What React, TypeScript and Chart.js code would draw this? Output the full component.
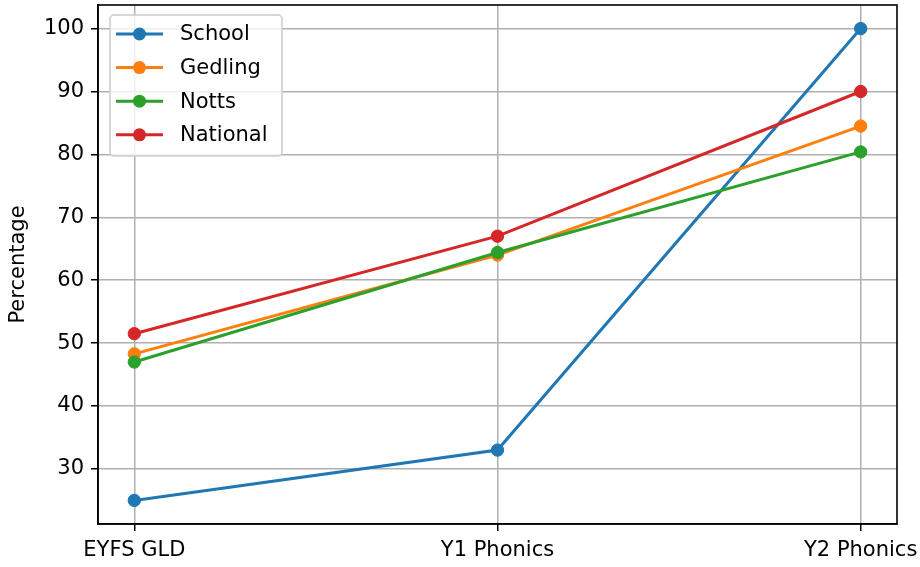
import React, { useEffect, useRef } from "react";
import { Chart, registerables } from "chart.js";

Chart.register(...registerables);

const categories = ["EYFS GLD", "Y1 Phonics", "Y2 Phonics"];
const schoolValues = [25, 33, 100];
const gedlingValues = [48.3, 64.0, 84.5];
const nottsValues = [47.0, 64.4, 80.4];
const nationalValues = [51.5, 67.0, 90.0];
const yTickValues = [30, 40, 50, 60, 70, 80, 90, 100];
const seriesNames = ["School", "Gedling", "Notts", "National"];
const seriesColors = ["#1f77b4", "#ff7f0e", "#2ca02c", "#d62728"];
const seriesValues = [schoolValues, gedlingValues, nottsValues, nationalValues];

const FONT = '"DejaVu Sans", sans-serif';
const FS = 21;

const framePlugin = {
  id: "mplFrame",
  afterDatasetsDraw(chart: any) {
    const { ctx, chartArea: a } = chart;
    ctx.save();
    ctx.strokeStyle = "#000";
    ctx.lineWidth = 1.6;
    ctx.strokeRect(a.left, a.top, a.right - a.left, a.bottom - a.top);
    ctx.restore();
  },
};

const legendPlugin = {
  id: "mplLegend",
  afterDraw(chart: any) {
    const { ctx, chartArea: a } = chart;
    const bx = a.left + 12;
    const by = a.top + 10;
    const bw = 172;
    const bh = 141;
    ctx.save();
    ctx.beginPath();
    (ctx as any).roundRect(bx, by, bw, bh, 4);
    ctx.fillStyle = "rgba(255,255,255,0.8)";
    ctx.fill();
    ctx.strokeStyle = "#cccccc";
    ctx.lineWidth = 1.5;
    ctx.stroke();
    chart.data.datasets.forEach((ds: any, i: number) => {
      const y = by + 19 + i * 33.6;
      ctx.strokeStyle = ds.borderColor;
      ctx.lineWidth = 3;
      ctx.beginPath();
      ctx.moveTo(bx + 6, y);
      ctx.lineTo(bx + 53, y);
      ctx.stroke();
      ctx.fillStyle = ds.borderColor;
      ctx.beginPath();
      ctx.arc(bx + 29.5, y, 6.5, 0, Math.PI * 2);
      ctx.fill();
      ctx.fillStyle = "#000";
      ctx.font = `${FS}px ${FONT}`;
      ctx.textBaseline = "middle";
      ctx.textAlign = "left";
      ctx.fillText(ds.label, bx + 70, y + 1);
    });
    ctx.restore();
  },
};

export default function App() {
  const canvasRef = useRef<HTMLCanvasElement | null>(null);

  useEffect(() => {
    document.body.style.margin = "0";
    const canvas = canvasRef.current;
    if (!canvas) return;
    const datasets = seriesNames.map((name, si) => ({
      label: name,
      data: seriesValues[si].map((v, i) => ({ x: i, y: v })),
      borderColor: seriesColors[si],
      backgroundColor: seriesColors[si],
      pointBackgroundColor: seriesColors[si],
      pointBorderColor: seriesColors[si],
      pointRadius: 6.2,
      pointBorderWidth: 1,
      borderWidth: 3,
      tension: 0,
      fill: false,
      clip: false,
      order: seriesNames.length - 1 - si,
    }));
    const gridCommon = {
      color: "#b0b0b0",
      lineWidth: 1.5,
      tickColor: "#000",
      tickLength: 7,
      tickWidth: 1.5,
      drawTicks: true,
    };
    const chart = new Chart(canvas, {
      type: "line",
      data: { datasets },
      plugins: [framePlugin, legendPlugin],
      options: {
        animation: false,
        responsive: true,
        maintainAspectRatio: false,
        layout: { autoPadding: false, padding: { top: 5, right: 23, left: 0, bottom: 0 } },
        plugins: {
          legend: { display: false },
          tooltip: { enabled: false },
          title: { display: false },
        },
        scales: {
          x: {
            type: "linear",
            min: -0.1,
            max: 2.1,
            bounds: "data",
            afterBuildTicks: (s: any) => {
              s.ticks = categories.map((_, i) => ({ value: i }));
            },
            afterFit: (s: any) => {
              s.height = 43;
              s.paddingLeft = 0;
              s.paddingRight = 0;
            },
            ticks: {
              callback: (v: any) => categories[v as number] ?? "",
              font: { family: FONT, size: FS },
              color: "#000",
              maxRotation: 0,
              minRotation: 0,
              autoSkip: false,
              padding: 7,
            },
            grid: gridCommon,
            border: { display: true, color: "#000", width: 1.6 },
          },
          y: {
            type: "linear",
            min: 21.25,
            max: 103.75,
            bounds: "data",
            afterBuildTicks: (s: any) => {
              s.ticks = yTickValues.map((v) => ({ value: v }));
            },
            afterFit: (s: any) => {
              s.width = 98;
              s.paddingTop = 0;
              s.paddingBottom = 0;
            },
            title: {
              display: true,
              text: "Percentage",
              font: { family: FONT, size: FS },
              color: "#000",
              padding: { top: 6, bottom: 4 },
            },
            ticks: {
              font: { family: FONT, size: FS },
              color: "#000",
              padding: 7,
            },
            grid: gridCommon,
            border: { display: true, color: "#000", width: 1.6 },
          },
        },
      } as any,
    });
    return () => chart.destroy();
  }, []);

  return (
    <div style={{ width: 920, height: 567, position: "relative" }}>
      <canvas ref={canvasRef} />
    </div>
  );
}
